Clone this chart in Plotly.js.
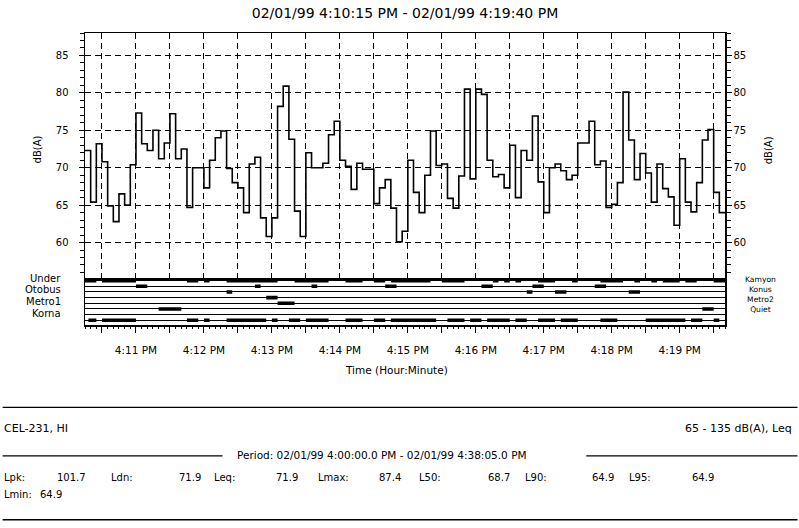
<!DOCTYPE html>
<html><head><meta charset="utf-8">
<script src="https://cdn.plot.ly/plotly-3.0.1.min.js"></script>
<style>html,body{margin:0;padding:0;background:#fff}</style>
</head><body><div id="chart" style="width:799px;height:528px"></div>
<script>
// ---- data ----
const startTime = [1999, 1, 1, 16, 10, 15];   // 02/01/99 4:10:15 PM
const spanSeconds = 565;                     // to 4:19:40 PM
const stepSeconds = 5;
const levels = [
 72.3,65.4,73.2,70.8,64.9,62.8,66.5,65.0,70.4,77.3,73.2,72.3,75.0,71.2,73.3,77.2,71.2,72.5,64.7,70.0,
 70.0,67.3,71.0,74.0,74.9,69.9,68.0,67.3,64.0,70.5,71.4,63.3,60.8,63.3,78.2,80.9,73.8,64.2,60.8,72.0,
 70.0,70.0,70.6,74.4,76.2,71.0,70.2,67.1,70.6,69.8,69.8,65.2,67.3,68.4,64.6,60.1,61.5,71.0,66.7,64.0,
 69.0,74.9,70.3,70.5,65.9,64.6,68.9,80.5,68.5,80.5,79.8,71.0,68.8,69.1,67.3,73.0,66.0,72.3,71.0,76.9,
 68.1,64.0,70.0,70.5,69.6,68.4,69.0,73.3,73.3,76.2,70.4,70.9,64.7,65.1,68.0,80.1,73.7,68.4,71.9,69.3,
 65.4,70.5,67.2,66.1,62.3,71.2,65.4,64.1,68.0,73.7,75.1,66.7,64.0
];
const yTicks = [60, 65, 70, 75, 80, 85];
const gridSeconds = [15,45,75,105,135,165,195,225,255,285,315,345,375,405,435,465,495,525,555];
const tickLabels = ['', '4:11 PM', '', '4:12 PM', '', '4:13 PM', '', '4:14 PM', '', '4:15 PM', '', '4:16 PM', '', '4:17 PM', '', '4:18 PM', '', '4:19 PM', ''];
const channels = ['Under', 'Kamyon', 'Otobus', 'Konus', 'Metro1', 'Metro2', 'Korna', 'Quiet'];
const underEvents  = [[0,10],[15,45],[90,100],[105,110],[125,170],[185,215],[230,245],[255,265],[270,305],[315,335],[360,365],[370,375],[380,385],[400,415],[430,435],[455,475],[485,490],[500,505],[510,525],[530,540],[555,565]];
const kamyonEvents = [[45,55],[150,155],[200,205],[265,275],[350,360],[395,405],[450,460]];
const otobusEvents = [[125,130],[390,395],[415,425],[480,490]];
const konusEvents  = [[160,170]];
const metro1Events = [[170,185]];
const metro2Events = [[65,85],[545,555]];
const kornaEvents  = [];
const quietEvents  = [[3,10],[15,45],[90,100],[105,110],[125,160],[165,170],[180,190],[195,215],[230,245],[255,265],[270,310],[320,335],[340,350],[355,375],[380,390],[400,415],[420,435],[455,470],[495,530],[535,545],[555,560]];
const leftBandLabels = ['Under', 'Otobus', 'Metro1', 'Korna'];
const rightBandLabels = ['Kamyon', 'Konus', 'Metro2', 'Quiet'];
const statNames  = ['Lpk:', 'Ldn:', 'Leq:', 'Lmax:', 'L50:', 'L90:', 'L95:', 'Lmin:'];
const statValues = ['101.7', '71.9', '71.9', '87.4', '68.7', '64.9', '64.9', '64.9'];
const titleText = '02/01/99 4:10:15 PM - 02/01/99 4:19:40 PM';
const instrumentText = 'CEL-231, HI';
const rangeText = '65 - 135 dB(A), Leq';
const periodText = 'Period: 02/01/99 4:00:00.0 PM - 02/01/99 4:38:05.0 PM';

// ---- helpers ----
const t0 = Date.UTC(...startTime);
function pad(n){ return String(n).padStart(2,'0'); }
function tAt(sec){
  const d = new Date(t0 + sec*1000);
  return d.getUTCFullYear()+'-'+pad(d.getUTCMonth()+1)+'-'+pad(d.getUTCDate())+' '+pad(d.getUTCHours())+':'+pad(d.getUTCMinutes())+':'+pad(d.getUTCSeconds());
}
const PL = 85.3, PR = 724.6, PT = 33.3, PB = 325, MB = 278.5, W = 799, H = 528;
const px = x => (x - PL) / (PR - PL);
const py = y => (PB - y) / (PB - PT);
const bandTop = (PB - MB) / (PB - PT);
const xRange = [tAt(0), tAt(spanSeconds)];
const yRange = [55.2, 88.0];
const FONT = 'DejaVu Sans, Verdana, sans-serif';

// ---- traces ----
const lx = levels.map((v,i) => tAt(i*stepSeconds)).concat([tAt(levels.length*stepSeconds)]);
const ly = levels.concat([levels[levels.length-1]]);
const traces = [
  {x: lx, y: ly, type:'scatter', mode:'lines', line:{shape:'hv', color:'#000', width:1.6}, xaxis:'x', yaxis:'y', hoverinfo:'skip'},
  {x: lx, y: ly, type:'scatter', mode:'lines', line:{shape:'hv', color:'rgba(0,0,0,0)', width:0}, xaxis:'x', yaxis:'y3', hoverinfo:'skip'}
];
const eventLists = [underEvents, kamyonEvents, otobusEvents, konusEvents, metro1Events, metro2Events, kornaEvents, quietEvents];
eventLists.forEach((ev, c) => {
  const ex = [], ey = [];
  ev.forEach(([a,b]) => { ex.push(tAt(a), tAt(b), null); ey.push(c+1, c+1, null); });
  if (ex.length) traces.push({x: ex, y: ey, type:'scatter', mode:'lines', line:{color:'#000', width:3.6}, xaxis:'x2', yaxis:'y2', hoverinfo:'skip', connectgaps:false});
});

// ---- annotations ----
const ann = [];
function txt(text, x, y, opts){ ann.push(Object.assign({text, x: px(x), y: py(y), xref:'paper', yref:'paper', showarrow:false, xanchor:'left', yanchor:'middle', font:{family:FONT, size:10, color:'#000'}}, opts||{})); }
txt('Time (Hour:Minute)', 396.7, 370, {xanchor:'center', font:{family:FONT, size:10.5, color:'#000'}});
txt('dB(A)', 38, 150, {xanchor:'center', textangle:-90});
txt('dB(A)', 768, 150, {xanchor:'center', textangle:-90});
const leftY = [278.3, 290, 301.7, 313.3];
leftBandLabels.forEach((s,i) => txt(s, 63, leftY[i], {xanchor:'right'}));
txt(rightBandLabels.join('<br>'), 760, 295, {xanchor:'center', align:'center', font:{family:FONT, size:7.6, color:'#000'}, borderpad:0});
txt(instrumentText, 2, 428.3, {font:{family:FONT, size:11, color:'#000'}});
txt(rangeText, 794, 428.3, {xanchor:'right', font:{family:FONT, size:11, color:'#000'}});
txt(periodText, 235, 454.5, {font:{family:FONT, size:10.5, color:'#000'}});
const nameX = [2, 109, 212, 316, 417, 523, 627, 2];
const valX  = [55, 177, 274, 377, 486, 590, 690, 38];
const rowY  = [477, 477, 477, 477, 477, 477, 477, 494];
statNames.forEach((s,i) => { txt(s, nameX[i], rowY[i]); txt(statValues[i], valX[i], rowY[i]); });

// ---- shapes (report rules) ----
const rule = (x0,x1,y) => ({type:'line', xref:'paper', yref:'paper', x0:px(x0), x1:px(x1), y0:py(y), y1:py(y), line:{color:'#000', width:1.4}});
const shapes = [rule(3,797,407.3), rule(3,222.7,455.7), rule(586,797,455.7), rule(3,797,519.5)];

const axLine = {showline:true, linecolor:'#000', linewidth:1.5, zeroline:false};
const layout = {
  width: W, height: H, margin:{l:PL, r:W-PR, t:PT, b:H-PB, pad:0},
  paper_bgcolor:'#fff', plot_bgcolor:'#fff', showlegend:false,
  font:{family:FONT, size:10, color:'#000'},
  title:{text:titleText, font:{family:FONT, size:14, color:'#000'}, x:0.5, xref:'paper', xanchor:'center', y:1-13/H, yref:'container', yanchor:'middle'},
  xaxis: Object.assign({type:'date', range:xRange, domain:[0,1], anchor:'y', tickmode:'array', tickvals:gridSeconds.map(tAt), showticklabels:false, ticks:'',
    showgrid:true, gridcolor:'#000', gridwidth:1, griddash:'6px,4px', mirror:true}, axLine),
  yaxis: Object.assign({domain:[bandTop,1], range:yRange, anchor:'x', tickmode:'array', tickvals:yTicks, ticks:'outside', ticklen:5, tickcolor:'#000', tickwidth:1,
    minor:{tickmode:'linear', tick0:55, dtick:1, ticks:'outside', ticklen:4, tickcolor:'#000', tickwidth:1, showgrid:false},
    showgrid:true, gridcolor:'#000', gridwidth:1, griddash:'6px,4px', ticklabelstandoff:8, tickfont:{family:FONT, size:10, color:'#000'}}, axLine),
  yaxis3: Object.assign({overlaying:'y', side:'right', anchor:'x', range:yRange, tickmode:'array', tickvals:yTicks, ticks:'outside', ticklen:5, tickcolor:'#000', tickwidth:1,
    minor:{tickmode:'linear', tick0:55, dtick:1, ticks:'outside', ticklen:4, tickcolor:'#000', tickwidth:1, showgrid:false},
    showgrid:false, ticklabelstandoff:0, tickfont:{family:FONT, size:10, color:'#000'}}, axLine),
  xaxis2: Object.assign({type:'date', range:xRange, matches:'x', domain:[0,1], anchor:'y2', tickmode:'array', tickvals:gridSeconds.map(tAt), ticktext:tickLabels,
    ticks:'outside', ticklen:6, tickcolor:'#000', tickwidth:1,
    minor:{tickmode:'linear', tick0:tAt(0), dtick:stepSeconds*1000, ticks:'outside', ticklen:2.5, tickcolor:'#000', tickwidth:1, showgrid:false},
    showgrid:false, ticklabelstandoff:9, tickfont:{family:FONT, size:10.5, color:'#000'}}, axLine),
  yaxis2: Object.assign({domain:[0,bandTop], range:[8.83,0.61], anchor:'x2', tickmode:'array', tickvals:channels.map((c,i)=>i+1), showticklabels:false, ticks:'',
    showgrid:true, gridcolor:'#000', gridwidth:1, mirror:true}, axLine),
  annotations: ann,
  shapes: shapes
};
Plotly.newPlot('chart', traces, layout, {staticPlot:true, displayModeBar:false});
</script>
</body></html>
